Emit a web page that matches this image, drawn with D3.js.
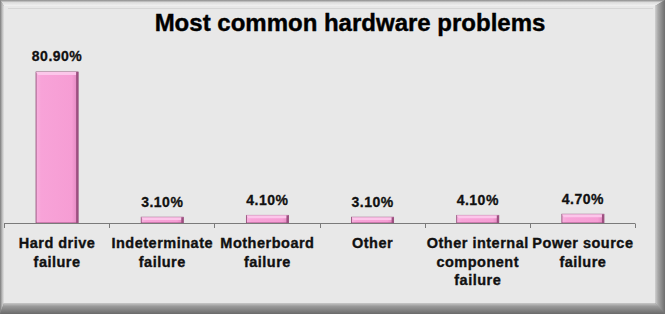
<!DOCTYPE html>
<html><head><meta charset="utf-8">
<script src="https://cdn.jsdelivr.net/npm/d3@7"></script>
<style>body{margin:0;background:#fff}svg{display:block}</style>
</head><body>
<script>
const title = "Most common hardware problems";
const categories = [["Hard drive","failure"],["Indeterminate","failure"],["Motherboard","failure"],["Other"],["Other internal","component","failure"],["Power source","failure"]];
const values = [80.9, 3.1, 4.1, 3.1, 4.1, 4.7];
const valueLabels = ["80.90%","3.10%","4.10%","3.10%","4.10%","4.70%"];
const yDomain = [0, 90];

const W = 665, H = 314;
const svg = d3.select("body").append("svg").attr("width", W).attr("height", H);
const defs = svg.append("defs");
function lg(id, x1,y1,x2,y2, stops){
  const g = defs.append("linearGradient").attr("id",id).attr("x1",x1).attr("y1",y1).attr("x2",x2).attr("y2",y2);
  stops.forEach(s=>g.append("stop").attr("offset",s[0]).attr("stop-color",s[1]));
}
lg("gL",0,0,1,0,[[0,"#7a7a7a"],[0.5,"#b8b8b8"],[1,"#e2e2e2"]]);
lg("gT",0,0,0,1,[[0,"#8a8a8a"],[0.4,"#dcdcdc"],[1,"#f2f2f2"]]);
lg("gR",0,0,1,0,[[0,"#d0d0d0"],[0.3,"#a8a8a8"],[1,"#6e6e6e"]]);
lg("gB",0,0,0,1,[[0,"#c8c8c8"],[0.3,"#9a9a9a"],[1,"#6a6a6a"]]);
lg("gBar",0,0,1,0,[[0,"#f7b2de"],[0.12,"#f8a3d8"],[0.85,"#f69dd4"],[1,"#e088bf"]]);

// frame
const iL = 4, iT = 6, iR = 655, iB = 303;
svg.append("rect").attr("width",W).attr("height",H).attr("fill","#808080");
svg.append("rect").attr("x",iL).attr("y",iT).attr("width",iR-iL).attr("height",iB-iT).attr("fill","#e8e8e8");
svg.append("polygon").attr("points",`0,0 ${W},0 ${iR},${iT} ${iL},${iT}`).attr("fill","url(#gT)");
svg.append("polygon").attr("points",`0,0 ${iL},${iT} ${iL},${iB} 0,${H}`).attr("fill","url(#gL)");
svg.append("polygon").attr("points",`${W},0 ${W},${H} ${iR},${iB} ${iR},${iT}`).attr("fill","url(#gR)");
svg.append("polygon").attr("points",`0,${H} ${W},${H} ${iR},${iB} ${iL},${iB}`).attr("fill","url(#gB)");
svg.append("line").attr("x1",iL+4).attr("x2",iR-2).attr("y1",iT+2.5).attr("y2",iT+2.5).attr("stroke","#d6d6d6").attr("stroke-width",1);

const font = "'Liberation Sans', Arial, sans-serif";
svg.append("text").attr("x",350).attr("y",31).attr("text-anchor","middle")
  .attr("font-family",font).attr("font-weight","bold").attr("font-size",24)
  .attr("fill","#000").attr("stroke","#000").attr("stroke-width",0.4).text(title);

const x = d3.scaleBand().domain(d3.range(values.length)).range([4,635]).padding(0);
const y = d3.scaleLinear().domain(yDomain).range([223,55]);
const bw = x.bandwidth()*0.4;

// bars
const g = svg.append("g");
values.forEach((v,i)=>{
  const cx = x(i)+x.bandwidth()/2+0.5;
  const x0 = cx-bw/2, x1 = cx+bw/2, y0 = y(v), yb = y(0);
  g.append("rect").attr("x",x0).attr("y",y0).attr("width",bw).attr("height",yb-y0).attr("fill","url(#gBar)")
    .attr("stroke","#8a4270").attr("stroke-width",0.8);
  const bev = Math.min(3,(yb-y0)/2);
  g.append("polygon").attr("points",`${x0},${y0} ${x1},${y0} ${x1-2},${y0+bev} ${x0+2},${y0+bev}`).attr("fill","#fcc6ea");
  g.append("rect").attr("x",x1-2).attr("y",y0).attr("width",2).attr("height",yb-y0).attr("fill","#9c4f80");
  g.append("text").attr("x",cx).attr("y",y0-10.5).attr("text-anchor","middle")
    .attr("font-family",font).attr("font-weight","bold").attr("font-size",14).attr("letter-spacing",0.5)
    .attr("fill","#111").attr("stroke","#111").attr("stroke-width",0.3).text(valueLabels[i]);
});

// axis
const ax = svg.append("g");
ax.append("line").attr("x1",4).attr("x2",635).attr("y1",223.5).attr("y2",223.5).attr("stroke","#7a7a7a");
d3.range(values.length+1).forEach(i=>{
  const tx = Math.round(4 + i*x.step())+0.5;
  ax.append("line").attr("x1",tx).attr("x2",tx).attr("y1",223.5).attr("y2",228).attr("stroke","#7a7a7a");
});
categories.forEach((lines,i)=>{
  const cx = x(i)+x.bandwidth()/2+0.5;
  const t = ax.append("text").attr("text-anchor","middle").attr("font-family",font).attr("font-weight","bold")
    .attr("font-size",14.5).attr("letter-spacing",0.5).attr("fill","#111").attr("stroke","#111").attr("stroke-width",0.35);
  lines.forEach((l,j)=>t.append("tspan").attr("x",cx).attr("y",248.3+j*18.5).text(l));
});
</script>
</body></html>
